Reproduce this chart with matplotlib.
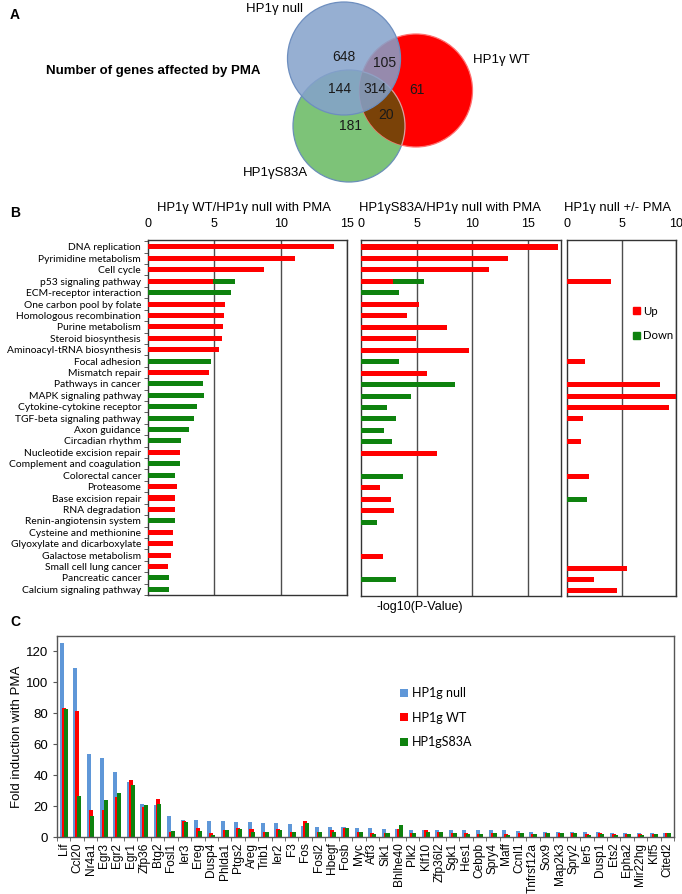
import numpy as np
import matplotlib
matplotlib.use('Agg')
import matplotlib.pyplot as plt
from matplotlib.patches import Circle, Patch

W, H = 682, 894
ARIAL = 'Liberation Sans'
CALIBRI = 'Lato'

# ---- panel A: Venn counts ----
venn_labels = ['HP1\u03b3 null', 'HP1\u03b3 WT', 'HP1\u03b3S83A']
venn_counts = {'null': 648, 'null_wt': 105, 'null_s83a': 144, 'all': 314,
               'wt': 61, 'wt_s83a': 20, 's83a': 181}

# ---- panel B: KEGG pathways, -log10(P) ----
pathways = ['DNA replication', 'Pyrimidine metabolism', 'Cell cycle',
            'p53 signaling pathway', 'ECM-receptor interaction',
            'One carbon pool by folate', 'Homologous recombination',
            'Purine metabolism', 'Steroid biosynthesis',
            'Aminoacyl-tRNA biosynthesis', 'Focal adhesion', 'Mismatch repair',
            'Pathways in cancer', 'MAPK signaling pathway',
            'Cytokine-cytokine receptor', 'TGF-beta signaling pathway',
            'Axon guidance', 'Circadian rhythm', 'Nucleotide excision repair',
            'Complement and coagulation', 'Colorectal cancer', 'Proteasome',
            'Base excision repair', 'RNA degradation',
            'Renin-angiotensin system', 'Cysteine and methionine',
            'Glyoxylate and dicarboxylate', 'Galactose metabolism',
            'Small cell lung cancer', 'Pancreatic cancer',
            'Calcium signaling pathway']

wt_up = [14.0, 11.1, 8.74, 4.9, 0, 5.83, 5.7, 5.63, 5.6, 5.33, 0, 4.6, 0, 0, 0,
         0, 0, 0, 2.42, 0, 0, 2.17, 2.02, 2.02, 0, 1.9, 1.9, 1.7, 1.52, 0, 0]
wt_down = [0, 0, 0, 6.55, 6.23, 0, 0, 0, 0, 0, 4.75, 0, 4.17, 4.25, 3.7, 3.45,
           3.1, 2.52, 0, 2.42, 2.0, 0, 0, 0, 2.0, 0, 0, 0, 0, 1.57, 1.55]
s83a_up = [17.7, 13.2, 11.5, 2.9, 0, 5.2, 4.1, 7.7, 4.97, 9.7, 0, 5.93, 0, 0, 0,
           0, 0, 0, 6.8, 0, 0, 1.7, 2.72, 2.96, 0, 0, 0, 1.95, 0, 0, 0]
s83a_down = [0, 0, 0, 5.66, 3.41, 0, 0, 0, 0, 0, 3.44, 0, 8.44, 4.52, 2.3, 3.17,
             2.04, 2.75, 0, 0, 3.74, 0, 0, 0, 1.4, 0, 0, 0, 0, 3.11, 0]
null_up = [0, 0, 0, 4.0, 0, 0, 0, 0, 0, 0, 1.67, 0, 8.54, 10.0, 9.38, 1.49,
           0, 1.3, 0, 0, 2.0, 0, 0, 0, 0, 0, 0, 0, 5.5, 2.45, 4.6]
null_down = [0, 0, 0, 0, 0, 0, 0, 0, 0, 0, 0, 0, 0, 0, 0, 0,
             0, 0, 0, 0, 0, 0, 1.83, 0, 0, 0, 0, 0, 0, 0, 0]

# ---- panel C: fold induction ----
genes = ['Lif', 'Ccl20', 'Nr4a1', 'Egr3', 'Egr2', 'Egr1', 'Zfp36', 'Btg2',
         'Fosl1', 'Ier3', 'Ereg', 'Dusp4', 'Phlda1', 'Ptgs2', 'Areg', 'Trib1',
         'Ier2', 'F3', 'Fos', 'Fosl2', 'Hbegf', 'Fosb', 'Myc', 'Atf3', 'Sik1',
         'Bhlhe40', 'Plk2', 'Klf10', 'Zfp36l2', 'Sgk1', 'Hes1', 'Cebpb',
         'Spry4', 'Maff', 'Ccnl1', 'Tnfrsf12a', 'Sox9', 'Map2k3', 'Spry2',
         'Ier5', 'Dusp1', 'Ets2', 'Epha2', 'Mir22hg', 'Klf5', 'Cited2']
fold_null = [125.6, 109.4, 53.7, 50.9, 41.9, 35.6, 21.4, 20.7, 13.8, 11.0, 10.8,
             10.4, 10.1, 9.7, 9.7, 9.1, 8.8, 8.6, 7.3, 6.7, 6.5, 6.3, 6.0, 6.0,
             5.4, 5.4, 4.7, 4.5, 4.5, 4.5, 4.3, 4.3, 4.3, 4.3, 3.9, 3.2, 3.2,
             3.2, 3.0, 3.0, 3.0, 2.8, 2.8, 2.8, 2.6, 2.4]
fold_wt = [83.7, 81.8, 17.5, 17.5, 26.1, 37.1, 19.6, 24.8, 3.5, 10.6, 5.6, 2.6,
           4.7, 6.0, 5.0, 3.2, 5.4, 3.2, 10.1, 3.5, 4.5, 5.8, 3.0, 2.4, 2.8,
           5.4, 2.6, 4.5, 3.5, 2.6, 2.4, 1.9, 2.8, 1.7, 2.8, 2.2, 2.4, 2.6,
           2.6, 1.9, 2.4, 2.2, 2.2, 1.9, 2.2, 2.4]
fold_s83a = [83.1, 26.8, 13.6, 23.9, 28.5, 33.7, 20.7, 21.4, 3.7, 9.9, 4.1, 1.3,
             4.7, 5.2, 3.2, 3.2, 4.5, 3.2, 8.8, 3.5, 3.2, 5.8, 3.0, 1.9, 2.8,
             7.5, 2.6, 3.5, 3.5, 2.4, 1.7, 1.7, 2.4, 1.3, 2.4, 1.7, 2.4, 2.6,
             2.4, 1.3, 2.2, 1.5, 2.2, 1.3, 2.2, 2.4]

RED = '#ff0000'
GREEN = '#0e820e'
BLUE = '#5f97d8'


def box(l, t, r, b):
    return [l / W, 1 - b / H, (r - l) / W, (b - t) / H]


fig = plt.figure(figsize=(W / 100, H / 100), dpi=100)

# ================= A =================
ax_a = fig.add_axes([0, 1 - 190 / H, 1, 190 / H])
ax_a.set_xlim(0, W)
ax_a.set_ylim(190, 0)
ax_a.axis('off')

c_null = ((344, 58.5), 56.5)
c_wt = ((416, 90.5), 56.5)
c_s83a = ((349, 126), 56)

g = Circle(*c_s83a, facecolor=(125/255, 195/255, 120/255), edgecolor='#6a8fb8', lw=0.9, zorder=1)
r = Circle(*c_wt, facecolor=RED, edgecolor='#ff7070', lw=0.9, zorder=2)
ax_a.add_patch(g)
ax_a.add_patch(r)
brown = Circle(*c_s83a, facecolor=(122/255, 66/255, 8/255), edgecolor='#d8a0a0', lw=0.9, zorder=3)
ax_a.add_patch(brown)
brown.set_clip_path(r)
b = Circle(*c_null, facecolor=(133/255, 162/255, 203/255, 0.86), edgecolor='#6d8ebf', lw=0.9, zorder=4)
ax_a.add_patch(b)

num_pos = {'null': (344, 57), 'null_wt': (385, 63), 'null_s83a': (340, 89),
           'all': (375, 89), 'wt': (417, 90), 'wt_s83a': (386, 115), 's83a': (350, 126)}
for k, v in venn_counts.items():
    x, y = num_pos[k]
    ax_a.text(x, y, str(v), ha='center', va='center', fontsize=10,
              family=ARIAL, color='#1a1a1a', zorder=5)

ax_a.text(303, 9, venn_labels[0], ha='right', va='center', fontsize=9.5, family=ARIAL)
ax_a.text(473, 60, venn_labels[1], ha='left', va='center', fontsize=9.5, family=ARIAL)
ax_a.text(308, 173, venn_labels[2], ha='right', va='center', fontsize=9.5, family=ARIAL)
ax_a.text(153, 71, 'Number of genes affected by PMA', ha='center', va='center',
          fontsize=9.5, fontweight='bold', family=ARIAL)

fig.text(10 / W, 1 - 15 / H, 'A', fontsize=10, fontweight='bold', family=ARIAL, va='center')
fig.text(10 / W, 1 - 213 / H, 'B', fontsize=10, fontweight='bold', family=ARIAL, va='center')
fig.text(10 / W, 1 - 622 / H, 'C', fontsize=10, fontweight='bold', family=ARIAL, va='center')

# ================= B =================
ypos = np.arange(len(pathways))


def pathway_panel(rect, up, down, xmax, ticks, title, title_x):
    ax = fig.add_axes(rect)
    ax.barh(ypos, down, height=0.44, color=GREEN, lw=0, zorder=3)
    ax.barh(ypos, up, height=0.44, color=RED, lw=0, zorder=4)
    ax.set_xlim(0, xmax)
    ax.set_ylim(30.44, -0.61)
    ax.xaxis.tick_top()
    ax.set_xticks(ticks)
    ax.tick_params(axis='x', length=0, pad=7, labelsize=9)
    for lab in ax.get_xticklabels():
        lab.set_family(ARIAL)
    for t in ticks[1:]:
        ax.axvline(t, color='#4d4d4d', lw=1, zorder=2)
    for s in ax.spines.values():
        s.set_color('#333333')
        s.set_linewidth(1)
    ax.set_yticks([])
    fig.text(title_x / W, 1 - 208 / H, title, ha='center', va='center',
             fontsize=9.4, family=ARIAL)
    return ax


ax1 = pathway_panel(box(148, 240, 347, 595), wt_up, wt_down, 15, [0, 5, 10, 15],
                    'HP1\u03b3 WT/HP1\u03b3 null with PMA', 244)
ax1.set_yticks(ypos)
ax1.set_yticklabels(pathways, family=CALIBRI, fontsize=7.4)
ax1.set_yticks(np.arange(len(pathways) + 1) - 0.5, minor=True)
ax1.tick_params(axis='y', which='major', length=0, pad=5)
ax1.tick_params(axis='y', which='minor', length=3, color='#444444')

ax2 = pathway_panel(box(361, 240, 561, 596), s83a_up, s83a_down, 18, [0, 5, 10, 15],
                    'HP1\u03b3S83A/HP1\u03b3 null with PMA', 450)
ax3 = pathway_panel(box(567, 240, 676, 596), null_up, null_down, 10, [0, 5, 10],
                    'HP1\u03b3 null +/- PMA', 618)

leg = ax3.legend(handles=[Patch(color=RED, label='Up'), Patch(color=GREEN, label='Down')],
                 loc='upper left', bbox_to_anchor=(627 / W, 1 - 300 / H),
                 bbox_transform=fig.transFigure, frameon=False,
                 prop={'family': CALIBRI, 'size': 8.2}, handlelength=0.6,
                 handleheight=0.6, handletextpad=0.3, labelspacing=1.2,
                 borderpad=0)

fig.text(420 / W, 1 - 607 / H, '-log10(P-Value)', ha='center', va='center',
         fontsize=9, family=ARIAL)

# ================= C =================
axc = fig.add_axes(box(57, 636, 674, 837))
x = np.arange(len(genes))
bw = 0.3
axc.bar(x - 0.14, fold_null, width=bw, color=BLUE, lw=0, label='HP1g null')
axc.bar(x, fold_wt, width=bw, color=RED, lw=0, label='HP1g WT')
axc.bar(x + 0.14, fold_s83a, width=bw, color=GREEN, lw=0, label='HP1gS83A')
axc.set_xlim(-0.5, len(genes) - 0.5)
axc.set_ylim(0, 130)
axc.set_yticks(np.arange(0, 121, 20))
axc.set_xticks(x)
axc.set_xticklabels(genes, rotation=90, family=ARIAL, fontsize=8.6)
axc.set_xticks(np.arange(len(genes) + 1) - 0.5, minor=True)
axc.tick_params(axis='x', which='major', length=0, pad=4)
axc.tick_params(axis='x', which='minor', length=3, color='#555555')
axc.tick_params(axis='y', length=3, labelsize=9.5, color='#555555')
for lab in axc.get_yticklabels():
    lab.set_family(ARIAL)
for s in axc.spines.values():
    s.set_color('#555555')
    s.set_linewidth(1)
axc.set_ylabel('Fold induction with PMA', family=ARIAL, fontsize=9.5, labelpad=2)
axc.legend(loc='upper left', bbox_to_anchor=(394 / W, 1 - 681 / H),
           bbox_transform=fig.transFigure, frameon=False,
           prop={'family': CALIBRI, 'size': 9}, handlelength=0.6,
           handleheight=0.6, handletextpad=0.3, labelspacing=1.0, borderpad=0)

fig.savefig('out.png', dpi=100)
